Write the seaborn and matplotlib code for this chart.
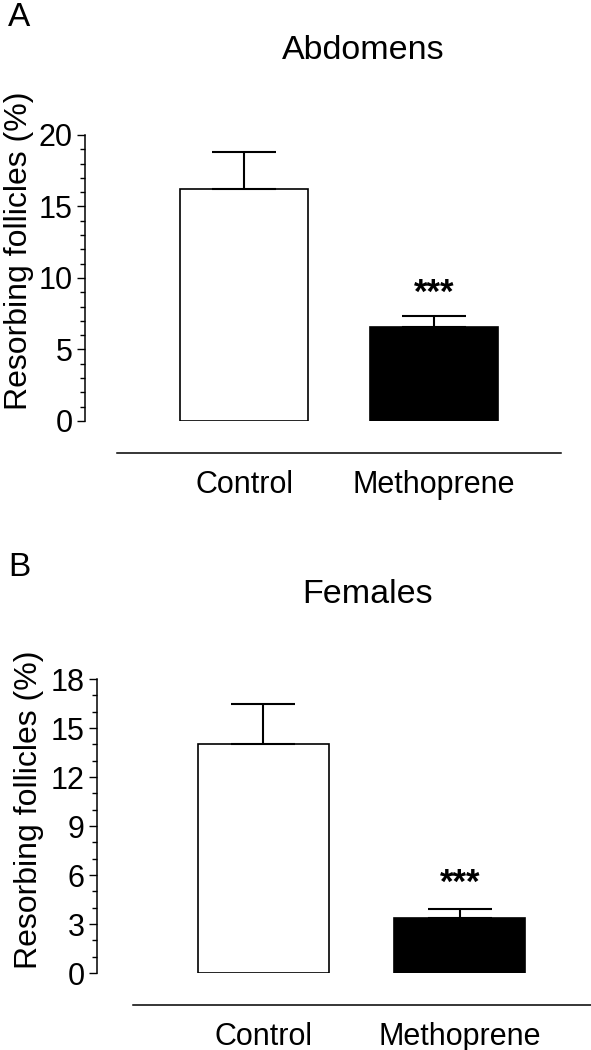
import matplotlib
matplotlib.use("Agg")
import matplotlib.pyplot as plt
import seaborn as sns
import pandas as pd
from matplotlib.ticker import MultipleLocator

categories = ["Control", "Methoprene"]
abdomen_mean = [16.2, 6.6]
abdomen_sem = [2.6, 0.75]
female_mean = [14.0, 3.35]
female_sem = [2.45, 0.55]
bar_colors = ["white", "black"]
abdomen_ticks = [0, 5, 10, 15, 20]
female_ticks = [0, 3, 6, 9, 12, 15, 18]
sig_label = "***"

sns.set_theme(style="white")
plt.rcParams["font.family"] = ["Liberation Sans", "DejaVu Sans"]
plt.rcParams["text.color"] = "black"
plt.rcParams["axes.labelcolor"] = "black"
plt.rcParams["xtick.color"] = "black"
plt.rcParams["ytick.color"] = "black"

fig = plt.figure(figsize=(5.91, 10.5), dpi=100)
axA = fig.add_axes([0.1438, 0.59905, 0.8054, 0.27238])
axB = fig.add_axes([0.1641, 0.07333, 0.8359, 0.28])


def panel(ax, means, sems, ticks, minor, title, title_x, xlim, spine_lo,
          width, star_y, label_y):
    df = pd.DataFrame({"group": categories, "value": means})
    sns.barplot(data=df, x="group", y="value", hue="group", palette=bar_colors,
                width=width, edgecolor="black", linewidth=1.2, legend=False,
                ax=ax, errorbar=None)
    for i, (m, s) in enumerate(zip(means, sems)):
        ax.errorbar(i, m, yerr=[[0], [s]], fmt="none", ecolor="black",
                    elinewidth=1.5, capsize=23, capthick=1.5, zorder=1)
    ax.text(1, star_y, sig_label, ha="center", va="center", fontsize=25,
            fontweight="bold", color="black")
    ax.set_ylim(ticks[0], ticks[-1])
    ax.set_yticks(ticks)
    ax.yaxis.set_minor_locator(MultipleLocator(minor))
    ax.set_xlim(*xlim)
    ax.set_xlabel("")
    ax.set_ylabel("Resorbing follicles (%)", fontsize=23, color="black")
    ax.yaxis.set_label_coords(-0.108, label_y)
    ax.set_title(title, fontsize=24.5, pad=55, x=title_x, color="black")
    for side in ["top", "right"]:
        ax.spines[side].set_visible(False)
    ax.spines["left"].set_color("black")
    ax.spines["left"].set_linewidth(1.1)
    ax.spines["bottom"].set_color("black")
    ax.spines["bottom"].set_linewidth(1.1)
    ax.spines["bottom"].set_position(("outward", 23))
    ax.spines["bottom"].set_bounds(spine_lo, xlim[1])
    ax.tick_params(axis="y", which="major", left=True, length=6, width=1.0,
                   color="black", labelsize=22, pad=3)
    ax.tick_params(axis="y", which="minor", left=True, length=3.5, width=1.0,
                   color="black")
    ax.tick_params(axis="x", length=0, labelsize=22, pad=12)
    for lab in ax.get_xticklabels() + ax.get_yticklabels():
        lab.set_color("black")


panel(axA, abdomen_mean, abdomen_sem, abdomen_ticks, 1, "Abdomens", 0.584,
      (-0.837, 1.668), -0.668, 0.674, 8.9, 0.594)
panel(axB, female_mean, female_sem, female_ticks, 1, "Females", 0.547,
      (-0.847, 1.667), -0.664, 0.667, 5.5, 0.554)

fig.text(8 / 591, 1 - 17 / 1050, "A", fontsize=24, ha="left", va="center")
fig.text(8 / 591, 1 - 567 / 1050, "B", fontsize=24, ha="left", va="center")

fig.savefig("out.png", dpi=100, facecolor="white")
